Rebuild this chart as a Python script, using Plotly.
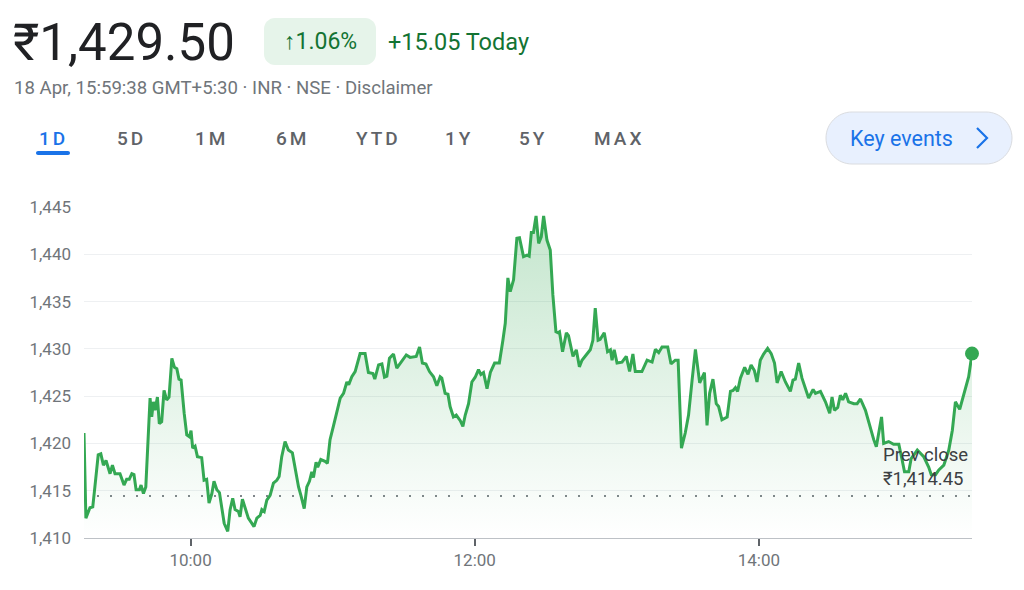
import pandas as pd
import plotly.graph_objects as go

# ---------------- data ----------------
session_date = "2024-04-18"
session_open = "09:15"
session_close = "15:30"
minutes_after_open = [
    0.0, 0.8, 2.5, 3.7, 4.6, 6.0, 7.1, 8.2, 9.3, 11.0, 12.0, 13.1, 15.2, 16.9, 18.0, 19.1, 20.2, 21.1,
    22.0, 23.4, 24.1, 25.1, 26.1, 27.9, 28.6, 29.3, 30.0, 31.0, 31.8, 32.8, 33.8, 34.9, 35.9, 37.1,
    38.2, 39.2, 40.1, 41.0, 42.3, 43.4, 44.5, 45.2, 45.9, 46.9, 47.9, 49.7, 50.7, 51.8, 52.8, 54.0,
    54.9, 56.1, 57.2, 58.2, 59.2, 60.7, 61.7, 62.8, 63.8, 65.2, 65.9, 66.9, 68.0, 69.4, 70.9, 71.8,
    73.0, 74.4, 75.1, 76.1, 77.2, 78.6, 80.0, 81.4, 82.4, 83.5, 84.9, 86.3, 88.0, 89.2, 90.6, 91.6,
    93.0, 94.1, 95.2, 96.2, 96.9, 98.0, 98.7, 100.0, 101.8, 102.8, 103.9, 105.3, 106.8, 108.2, 109.6,
    111.0, 111.8, 113.1, 114.5, 116.6, 118.7, 120.1, 122.0, 122.8, 124.4, 125.8, 126.9, 127.9, 129.0,
    130.7, 132.1, 134.2, 136.1, 137.7, 140.3, 141.7, 142.9, 144.4, 145.9, 147.6, 149.0, 150.4, 151.1,
    152.5, 153.7, 154.6, 156.0, 157.2, 158.9, 160.0, 161.0, 162.4, 163.8, 165.2, 166.6, 167.6, 168.7,
    170.2, 171.6, 173.4, 175.4, 176.9, 177.9, 179.0, 180.0, 181.4, 182.8, 183.9, 185.6, 187.1, 188.0,
    188.9, 189.8, 190.9, 192.0, 193.1, 194.1, 195.5, 196.9, 198.0, 199.3, 200.2, 200.8, 202.1, 203.7,
    204.6, 206.5, 207.9, 209.2, 210.3, 211.7, 213.8, 214.9, 215.9, 217.1, 218.0, 219.7, 221.1, 222.3,
    223.0, 223.9, 225.1, 227.2, 229.0, 230.4, 231.8, 232.8, 235.6, 237.8, 239.9, 241.3, 242.7, 244.1,
    246.5, 247.9, 249.7, 250.9, 252.3, 253.9, 255.3, 256.8, 258.2, 260.0, 262.0, 263.1, 264.2, 265.6,
    267.0, 268.0, 269.4, 271.6, 273.0, 274.1, 275.1, 276.0, 277.2, 279.0, 280.4, 281.7, 283.1, 284.2,
    285.6, 287.0, 288.7, 290.2, 291.6, 292.7, 294.4, 296.2, 298.3, 299.4, 300.4, 301.8, 303.2, 306.0,
    307.9, 308.9, 311.0, 313.1, 314.9, 315.9, 316.9, 318.3, 319.4, 320.4, 321.6, 322.9, 325.1, 326.5,
    327.9, 330.0, 331.8, 333.5, 334.6, 335.6, 336.8, 337.7, 339.8, 341.9, 344.1, 345.5, 346.5, 348.3,
    349.3, 351.9, 354.6, 356.7, 357.8, 359.6, 361.0, 363.1, 365.2, 366.7, 368.0, 369.8, 371.3, 372.7,
    373.6, 375.0,
]
prices = [
    1421.1, 1412.1, 1413.2, 1413.3, 1415.4, 1418.8, 1418.9, 1417.7, 1418.2, 1416.8, 1417.7, 1416.8,
    1416.8, 1415.6, 1416.2, 1416.2, 1416.8, 1416.7, 1415.1, 1415.1, 1415.6, 1414.7, 1415.4, 1424.8,
    1422.8, 1424.4, 1423.5, 1424.9, 1422.1, 1422.3, 1425.6, 1424.6, 1424.9, 1429.0, 1428.05, 1427.9,
    1426.8, 1426.7, 1423.2, 1420.9, 1420.7, 1421.35, 1419.5, 1419.7, 1418.6, 1418.5, 1416.1, 1416.2,
    1413.7, 1414.7, 1416.0, 1415.1, 1414.8, 1413.1, 1411.55, 1410.7, 1413.0, 1414.2, 1413.0, 1412.8,
    1412.25, 1414.1, 1413.1, 1412.1, 1411.55, 1411.2, 1412.1, 1412.4, 1413.0, 1412.8, 1414.0, 1414.5,
    1415.8, 1416.1, 1416.5, 1418.6, 1420.2, 1419.3, 1419.0, 1417.2, 1415.4, 1414.5, 1413.1, 1415.4,
    1416.0, 1417.0, 1416.4, 1418.0, 1417.5, 1418.3, 1418.1, 1417.9, 1420.4, 1421.8, 1423.2, 1424.8,
    1425.3, 1426.5, 1426.2, 1427.05, 1427.6, 1429.5, 1429.5, 1427.5, 1427.4, 1426.8, 1428.3, 1428.4,
    1427.0, 1427.1, 1429.0, 1429.45, 1427.95, 1428.65, 1429.35, 1429.1, 1429.2, 1430.2, 1428.5,
    1428.4, 1427.6, 1427.05, 1426.1, 1427.05, 1426.9, 1425.3, 1425.2, 1423.9, 1422.8, 1423.0, 1422.4,
    1421.8, 1423.0, 1424.2, 1426.5, 1427.0, 1427.8, 1427.3, 1427.5, 1425.8, 1427.5, 1428.5, 1428.5,
    1430.9, 1432.7, 1437.5, 1436.05, 1437.3, 1441.7, 1441.75, 1439.75, 1439.9, 1439.8, 1442.3,
    1442.3, 1444.05, 1441.15, 1441.85, 1444.05, 1441.5, 1440.45, 1435.7, 1431.8, 1431.7, 1431.8,
    1429.7, 1431.7, 1431.4, 1429.2, 1429.9, 1428.1, 1428.8, 1429.2, 1429.9, 1430.9, 1434.3, 1430.9,
    1431.0, 1431.7, 1429.7, 1429.9, 1428.8, 1429.9, 1428.5, 1428.6, 1429.2, 1427.6, 1429.45, 1427.6,
    1427.6, 1428.8, 1428.6, 1429.95, 1429.6, 1430.2, 1430.2, 1428.4, 1428.8, 1428.8, 1419.5, 1421.1,
    1423.0, 1426.7, 1429.95, 1426.4, 1427.5, 1421.9, 1425.3, 1426.8, 1424.2, 1423.9, 1422.5, 1422.8,
    1425.5, 1425.6, 1425.9, 1425.5, 1426.9, 1428.05, 1427.3, 1428.3, 1427.7, 1426.5, 1428.8, 1429.45,
    1430.05, 1429.5, 1428.5, 1426.4, 1427.6, 1426.5, 1425.5, 1426.7, 1426.8, 1428.5, 1426.9, 1424.8,
    1425.7, 1425.3, 1425.5, 1424.4, 1423.2, 1424.9, 1423.5, 1423.8, 1425.1, 1424.6, 1425.3, 1424.4,
    1424.2, 1424.2, 1424.7, 1423.5, 1421.8, 1420.4, 1419.65, 1421.1, 1422.8, 1420.0, 1420.2, 1419.9,
    1419.9, 1418.25, 1417.0, 1417.0, 1418.4, 1419.3, 1418.6, 1417.5, 1416.7, 1416.7, 1417.2, 1417.7,
    1419.3, 1421.4, 1424.4, 1423.6, 1424.9, 1426.2, 1427.05, 1429.5,
]
prev_close = 1414.45
y_ticks = [1410, 1415, 1420, 1425, 1430, 1435, 1440, 1445]
x_ticks = ["10:00", "12:00", "14:00"]

price_text = "₹1,429.50"
change_pct_text = "↑1.06%"
change_abs_text = "+15.05 Today"
subtitle_text = "18 Apr, 15:59:38 GMT+5:30 · INR · NSE · Disclaimer"
range_tabs = ["1D", "5D", "1M", "6M", "YTD", "1Y", "5Y", "MAX"]
prev_close_label = "Prev close<br>₹1,414.45"
key_events_text = "Key events"

# ---------------- build ----------------
t0 = pd.Timestamp(f"{session_date} {session_open}")
times = [t0 + pd.Timedelta(minutes=m) for m in minutes_after_open]
t_end = pd.Timestamp(f"{session_date} {session_close}")
tick_times = [pd.Timestamp(f"{session_date} {t}") for t in x_ticks]

W, H = 1024, 590
GREEN = "#34a853"
FONT = "Roboto"


def px(x):
    return x / W


def py(y):
    return 1 - y / H


def rrect(x0, y0, x1, y1, r):
    k = 0.5523 * r
    pts = [
        f"M {px(x0 + r)},{py(y0)}",
        f"L {px(x1 - r)},{py(y0)}",
        f"C {px(x1 - r + k)},{py(y0)} {px(x1)},{py(y0 + r - k)} {px(x1)},{py(y0 + r)}",
        f"L {px(x1)},{py(y1 - r)}",
        f"C {px(x1)},{py(y1 - r + k)} {px(x1 - r + k)},{py(y1)} {px(x1 - r)},{py(y1)}",
        f"L {px(x0 + r)},{py(y1)}",
        f"C {px(x0 + r - k)},{py(y1)} {px(x0)},{py(y1 - r + k)} {px(x0)},{py(y1 - r)}",
        f"L {px(x0)},{py(y0 + r)}",
        f"C {px(x0)},{py(y0 + r - k)} {px(x0 + r - k)},{py(y0)} {px(x0 + r)},{py(y0)}",
        "Z",
    ]
    return " ".join(pts)


fig = go.Figure()

# prev close dotted line
fig.add_trace(go.Scatter(
    x=[times[0], times[-1]], y=[prev_close, prev_close], mode="lines",
    line=dict(color="#80868b", width=2, dash="2px,11px"),
    hoverinfo="skip", showlegend=False,
))

# price line with gradient fill
fig.add_trace(go.Scatter(
    x=times, y=prices, mode="lines",
    line=dict(color=GREEN, width=3),
    fill="tozeroy",
    fillgradient=dict(
        type="vertical",
        start=y_ticks[0], stop=y_ticks[-1],
        colorscale=[[0, "rgba(52,168,83,0.0)"], [1, "rgba(52,168,83,0.30)"]],
    ),
    showlegend=False,
))

# end dot
fig.add_trace(go.Scatter(
    x=[times[-1]], y=[prices[-1]], mode="markers",
    marker=dict(color=GREEN, size=14),
    cliponaxis=False,
    showlegend=False,
))

shapes = []
annotations = []

# header
annotations.append(dict(
    x=px(11), y=py(43), xref="paper", yref="paper", xanchor="left", yanchor="middle",
    text=price_text, showarrow=False,
    font=dict(family=FONT, size=51, color="#202124"),
))
shapes.append(dict(type="path", xref="paper", yref="paper", path=rrect(264, 18, 376, 65, 11),
                   fillcolor="#e6f4ea", line=dict(width=0), layer="below"))
annotations.append(dict(
    x=px(320), y=py(42), xref="paper", yref="paper", xanchor="center", yanchor="middle",
    text=change_pct_text, showarrow=False,
    font=dict(family=FONT, size=23, color="#137333"),
))
annotations.append(dict(
    x=px(386), y=py(42), xref="paper", yref="paper", xanchor="left", yanchor="middle",
    text=change_abs_text, showarrow=False,
    font=dict(family=FONT, size=23.5, color="#137333"),
))
annotations.append(dict(
    x=px(12), y=py(88), xref="paper", yref="paper", xanchor="left", yanchor="middle",
    text=subtitle_text, showarrow=False,
    font=dict(family=FONT, size=18.6, color="#70757a"),
))

# range tabs
tab_centers = [53, 131, 211, 292, 378, 459, 533, 619]
for i, (lab, cx) in enumerate(zip(range_tabs, tab_centers)):
    annotations.append(dict(
        x=px(cx), y=py(138), xref="paper", yref="paper", xanchor="center", yanchor="middle",
        text=f"<span style='letter-spacing:3px'>{lab}</span>", showarrow=False,
        font=dict(family=FONT, size=19, color="#1a73e8" if i == 0 else "#5f6368", weight=500),
    ))
shapes.append(dict(type="path", xref="paper", yref="paper", path=rrect(36, 151, 70, 155, 2),
                   fillcolor="#1a73e8", line=dict(width=0)))

# key events button
shapes.append(dict(type="path", xref="paper", yref="paper", path=rrect(826, 112, 1012, 164, 26),
                   fillcolor="#e8f0fe", line=dict(color="#dadce0", width=1)))
annotations.append(dict(
    x=px(848), y=py(138), xref="paper", yref="paper", xanchor="left", yanchor="middle",
    text=key_events_text, showarrow=False,
    font=dict(family=FONT, size=21.5, color="#1a73e8"),
))
shapes.append(dict(type="path", xref="paper", yref="paper",
                   path=f"M {px(977)},{py(128)} L {px(987)},{py(138)} L {px(977)},{py(148)}",
                   line=dict(color="#1a73e8", width=2.2)))

# prev close label
annotations.append(dict(
    x=px(881), y=py(442), xref="paper", yref="paper", xanchor="left", yanchor="top",
    text=prev_close_label, showarrow=False, align="left",
    font=dict(family=FONT, size=18.5, color="#3c4043"),
))

fig.update_layout(
    width=W, height=H,
    margin=dict(l=0, r=0, t=0, b=0, pad=0, autoexpand=False),
    paper_bgcolor="white", plot_bgcolor="white",
    shapes=shapes, annotations=annotations,
    showlegend=False,
    xaxis=dict(
        domain=[px(84), px(972)],
        type="date", automargin=False,
        range=[t0, t_end],
        tickvals=tick_times, ticktext=x_ticks,
        showgrid=False, zeroline=False,
        showline=True, linecolor="#bdc1c6", linewidth=1,
        ticks="outside", ticklen=7, tickwidth=2, tickcolor="#5f6368",
        tickfont=dict(family=FONT, size=17, color="#70757a"),
        fixedrange=True,
    ),
    yaxis=dict(
        domain=[py(538), py(207)], automargin=False,
        range=[y_ticks[0], y_ticks[-1]],
        tickvals=y_ticks, tickformat=",d",
        showgrid=True, gridcolor="#eef0f2", gridwidth=1,
        zeroline=False, showline=False,
        ticks="", ticklabelstandoff=12,
        tickfont=dict(family=FONT, size=17, color="#70757a"),
        fixedrange=True,
    ),
)

fig.write_html("out.html")
